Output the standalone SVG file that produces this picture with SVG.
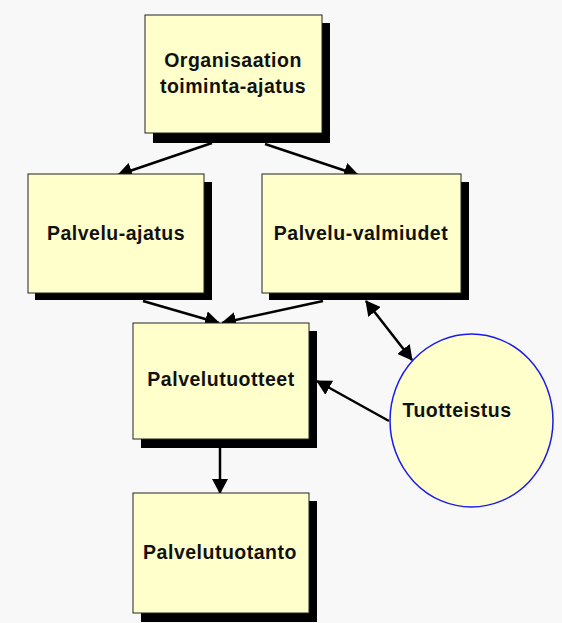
<svg xmlns="http://www.w3.org/2000/svg" width="562" height="623" viewBox="0 0 562 623">
<defs>
<style>
.bg{fill:#f8f8f8}
.box{fill:#ffffcc;stroke:#222;stroke-width:1}
.sh{fill:#000}
.lbl{font-family:"Liberation Sans",Arial,sans-serif;font-weight:bold;font-size:19.5px;fill:#111;text-anchor:middle;letter-spacing:0.5px}
.con{stroke:#000;stroke-width:2.5;fill:none}
</style>
<marker id="ah" markerUnits="userSpaceOnUse" markerWidth="16" markerHeight="16" refX="14" refY="8" orient="auto-start-reverse">
<path d="M0,0 L15,8 L0,16 Z" fill="#000"/>
</marker>
</defs>
<rect class="bg" x="0" y="0" width="562" height="623"/>
<g id="connectors">
<line class="con" x1="212" y1="143" x2="118" y2="175" marker-end="url(#ah)"/>
<line class="con" x1="265" y1="144" x2="358" y2="175" marker-end="url(#ah)"/>
<line class="con" x1="143" y1="301" x2="219" y2="323" marker-end="url(#ah)"/>
<line class="con" x1="323" y1="301" x2="222" y2="323" marker-end="url(#ah)"/>
<line class="con" x1="366" y1="301" x2="412" y2="360" marker-start="url(#ah)" marker-end="url(#ah)"/>
<line class="con" x1="389" y1="421" x2="317" y2="381" marker-end="url(#ah)"/>
<line class="con" x1="220" y1="448" x2="220" y2="493" marker-end="url(#ah)"/>
</g>
<g id="node-organisaatio">
<rect class="sh" x="153" y="23" width="177" height="120"/>
<rect class="box" x="145" y="15" width="177" height="118"/>
<text class="lbl" x="233" y="67">Organisaation</text>
<text class="lbl" x="233" y="93">toiminta-ajatus</text>
</g>
<g id="node-palvelu-ajatus">
<rect class="sh" x="35" y="182" width="177" height="118"/>
<rect class="box" x="28" y="174" width="176" height="119"/>
<text class="lbl" x="116" y="240">Palvelu-ajatus</text>
</g>
<g id="node-palvelu-valmiudet">
<rect class="sh" x="269" y="182" width="200" height="118"/>
<rect class="box" x="262" y="174" width="199" height="119"/>
<text class="lbl" x="361" y="240">Palvelu-valmiudet</text>
</g>
<g id="node-palvelutuotteet">
<rect class="sh" x="141" y="331" width="176" height="117"/>
<rect class="box" x="133" y="323" width="176" height="116"/>
<text class="lbl" x="221" y="386">Palvelutuotteet</text>
</g>
<g id="node-palvelutuotanto">
<rect class="sh" x="141" y="501" width="176" height="121"/>
<rect class="box" x="133" y="493" width="176" height="120"/>
<text class="lbl" x="220" y="559">Palvelutuotanto</text>
</g>
<g id="node-tuotteistus">
<ellipse cx="471.5" cy="420.5" rx="81.5" ry="86.5" fill="#ffffcc" stroke="#1a1aee" stroke-width="1.5"/>
<text class="lbl" x="457" y="417">Tuotteistus</text>
</g>
</svg>
